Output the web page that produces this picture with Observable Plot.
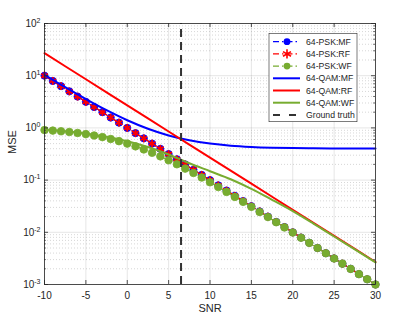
<!DOCTYPE html>
<html>
<head>
<meta charset="utf-8">
<script src="https://cdn.jsdelivr.net/npm/d3@7"></script>
<script src="https://cdn.jsdelivr.net/npm/@observablehq/plot@0.6"></script>
<style>
  html, body { margin: 0; padding: 0; background: #fff; }
</style>
</head>
<body>
<div id="chart"></div>
<script>
// ---- data ----
const snr = [-10,-9,-8,-7,-6,-5,-4,-3,-2,-1,0,1,2,3,4,5,6,7,8,9,10,11,12,13,14,15,16,17,18,19,20,21,22,23,24,25,26,27,28,29,30];
const pskMF = [10,7.94,6.31,5.01,3.98,3.16,2.51,2.00,1.58,1.26,1.00,0.794,0.631,0.501,0.398,0.316,0.251,0.200,0.158,0.126,0.100,0.0794,0.0631,0.0501,0.0398,0.0316,0.0251,0.0200,0.0158,0.0126,0.0100,0.00794,0.00631,0.00501,0.00398,0.00316,0.00251,0.00200,0.00158,0.00126,0.00100];
const pskRF = [10,7.94,6.31,5.01,3.98,3.16,2.51,2.00,1.58,1.26,1.00,0.794,0.631,0.501,0.398,0.316,0.251,0.200,0.158,0.126,0.100,0.0794,0.0631,0.0501,0.0398,0.0316,0.0251,0.0200,0.0158,0.0126,0.0100,0.00794,0.00631,0.00501,0.00398,0.00316,0.00251,0.00200,0.00158,0.00126,0.00100];
const pskWF = [0.909,0.888,0.863,0.834,0.799,0.760,0.715,0.666,0.613,0.557,0.500,0.443,0.387,0.334,0.285,0.240,0.201,0.166,0.137,0.112,0.0909,0.0736,0.0594,0.0477,0.0383,0.0307,0.0245,0.0196,0.0156,0.0124,0.0099,0.00788,0.00627,0.00499,0.00397,0.00315,0.00251,0.00199,0.00158,0.00126,0.000999];
const qamSnr = [-10,-7.5,-5,-2.5,0,2.5,5,7.5,10,12.5,15,17.5,20,22.5,25,27.5,30];
const qamMF = [10.40,6.02,3.56,2.18,1.40,0.962,0.716,0.578,0.500,0.456,0.432,0.418,0.410,0.406,0.403,0.402,0.401];
const qamRF = [27,15.18,8.54,4.80,2.70,1.518,0.854,0.480,0.270,0.152,0.0854,0.048,0.027,0.0152,0.00854,0.0048,0.0027];
const qamWF = [0.91,0.865,0.785,0.675,0.555,0.43,0.31,0.21,0.148,0.104,0.068,0.042,0.0255,0.0147,0.0083,0.0047,0.00265];
const groundTruth = [6.5];
const xTicks = [-10,-5,0,5,10,15,20,25,30];
const yTicks = [1e-3,1e-2,1e-1,1,10,100];
const yDecades = [1e-3,1e-2,1e-1,1,10];
const yMantissas = [2,3,4,5,6,7,8,9];
const seriesNames = ["64-PSK:MF","64-PSK:RF","64-PSK:WF","64-QAM:MF","64-QAM:RF","64-QAM:WF","Ground truth"];
const yMinor = yDecades.flatMap(k => yMantissas.map(m => m * k));

// ---- build ----
const W = 397, H = 325;
const mL = 44, mR = 22, mT = 23, mB = 41;
const fw = W - mL - mR, fh = H - mT - mB;
const X0 = -10, X1 = 30, Y0 = 1e-3, Y1 = 1e2;
const BLUE = "#0000ff", RED = "#ff0000", GREEN = "#77ac30", AX = "#262626";
const psk = (arr) => snr.map((s, i) => ({snr: s, v: arr[i]}));
const qam = (arr) => qamSnr.map((s, i) => ({snr: s, v: arr[i]}));
const dashDot = "6,3,1.5,3";

const svg = Plot.plot({
  width: W, height: H,
  marginLeft: mL, marginRight: mR, marginTop: mT, marginBottom: mB,
  style: {fontFamily: "'Liberation Sans', Arial, sans-serif", fontSize: "10px", color: AX, background: "#fff"},
  x: {domain: [X0, X1]},
  y: {type: "log", domain: [Y0, Y1]},
  marks: [
    Plot.ruleY(yMinor, {y: d => d, x1: X0, x2: X1, stroke: "#000", strokeOpacity: 0.16, strokeDasharray: "1,2"}),
    Plot.ruleX(xTicks, {x: d => d, y1: Y0, y2: Y1, stroke: "#000", strokeOpacity: 0.1}),
    Plot.ruleY(yTicks, {y: d => d, x1: X0, x2: X1, stroke: "#000", strokeOpacity: 0.1}),
    // PSK
    Plot.line(psk(pskMF), {x: "snr", y: "v", stroke: BLUE, strokeWidth: 1.3, strokeDasharray: dashDot}),
    Plot.dot(psk(pskMF), {x: "snr", y: "v", fill: BLUE, r: 3.6, stroke: BLUE, strokeWidth: 0.8}),
    Plot.line(psk(pskRF), {x: "snr", y: "v", stroke: RED, strokeWidth: 1.3, strokeDasharray: dashDot}),
    Plot.dot(psk(pskRF), {x: "snr", y: "v", symbol: "asterisk", stroke: RED, r: 3.6, strokeWidth: 1.8}),
    Plot.line(psk(pskWF), {x: "snr", y: "v", stroke: GREEN, strokeWidth: 1.3, strokeDasharray: dashDot}),
    Plot.dot(psk(pskWF), {x: "snr", y: "v", fill: GREEN, r: 3.8, stroke: GREEN, strokeWidth: 0.8}),
    // QAM
    Plot.line(qam(qamMF), {x: "snr", y: "v", stroke: BLUE, strokeWidth: 2, curve: "monotone-x"}),
    Plot.line(qam(qamRF), {x: "snr", y: "v", stroke: RED, strokeWidth: 2}),
    Plot.line(qam(qamWF), {x: "snr", y: "v", stroke: GREEN, strokeWidth: 2, curve: "monotone-x"}),
    // ground truth
    Plot.ruleX(groundTruth, {x: d => d, y1: Y0, y2: Y1, stroke: "#333", strokeWidth: 2, strokeDasharray: "8,5"}),
    // frame and ticks
    Plot.frame({stroke: AX, strokeWidth: 0.8}),
    Plot.tickX(xTicks, {x: d => d, insetBottom: fh - 4, stroke: AX, strokeWidth: 0.8}),
    Plot.tickX(xTicks, {x: d => d, insetTop: fh - 4, stroke: AX, strokeWidth: 0.8}),
    Plot.tickY(yTicks, {y: d => d, insetRight: fw - 4, stroke: AX, strokeWidth: 0.8}),
    Plot.tickY(yTicks, {y: d => d, insetLeft: fw - 4, stroke: AX, strokeWidth: 0.8}),
    Plot.tickY(yMinor, {y: d => d, insetRight: fw - 2, stroke: AX, strokeWidth: 0.6}),
    Plot.tickY(yMinor, {y: d => d, insetLeft: fw - 2, stroke: AX, strokeWidth: 0.6}),
    Plot.axisX(xTicks, {tickSize: 0, tickPadding: 7, label: null, tickFormat: d => String(d), fill: AX, fontSize: 10}),
    Plot.axisY(yTicks, {tickSize: 0, tickPadding: 4, label: null, tickFormat: d => String(Math.round(Math.log10(d))), fill: AX, fontSize: 10}),
    Plot.text(["SNR"], {frameAnchor: "bottom", dy: 27, text: d => d, fontSize: 11, fill: AX}),
    Plot.text(["MSE"], {frameAnchor: "left", dx: -32, rotate: -90, text: d => d, fontSize: 11, fill: AX})
  ]
});

// superscript exponents on y tick labels
d3.select(svg).selectAll('g[aria-label="y-axis tick label"] text').each(function() {
  const e = this.textContent;
  const t = d3.select(this);
  t.text("10");
  t.append("tspan").attr("dy", "-0.55em").attr("font-size", "7px").text(e);
});

// legend
const lg = d3.select(svg).append("g")
  .attr("font-family", "'Liberation Sans', Arial, sans-serif")
  .attr("font-size", "8.7px")
  .attr("text-anchor", "start");
const bx0 = 269, by0 = 33.3, bx1 = 357, by1 = 121.7;
lg.append("rect").attr("x", bx0).attr("y", by0).attr("width", bx1 - bx0).attr("height", by1 - by0)
  .attr("fill", "#fff").attr("stroke", AX).attr("stroke-width", 0.6);
const styles = [
  {c: BLUE, dash: dashDot, w: 1.3, m: "circle"},
  {c: RED, dash: dashDot, w: 1.3, m: "asterisk"},
  {c: GREEN, dash: dashDot, w: 1.3, m: "circle"},
  {c: BLUE, dash: null, w: 2, m: null},
  {c: RED, dash: null, w: 2, m: null},
  {c: GREEN, dash: null, w: 2, m: null},
  {c: "#333", dash: "7,9", w: 2, m: null}
];
seriesNames.forEach((name, i) => {
  const y = 41.7 + i * 12.2;
  const s = styles[i];
  const ln = lg.append("line").attr("x1", 273).attr("x2", 300).attr("y1", y).attr("y2", y)
    .attr("stroke", s.c).attr("stroke-width", s.w);
  if (s.dash) ln.attr("stroke-dasharray", s.dash);
  if (s.m === "circle") {
    lg.append("circle").attr("cx", 287).attr("cy", y).attr("r", 3.4).attr("fill", s.c);
  } else if (s.m === "asterisk") {
    lg.append("path").attr("d", d3.symbol(d3.symbolAsterisk, 60)()).attr("transform", `translate(287,${y})`)
      .attr("stroke", s.c).attr("stroke-width", 1.6).attr("fill", "none");
  }
  lg.append("text").attr("x", 306).attr("y", y).attr("dy", "0.35em").attr("fill", AX)
    .attr("text-anchor", "start").text(name);
});

document.getElementById("chart").appendChild(svg);
</script>
</body>
</html>
